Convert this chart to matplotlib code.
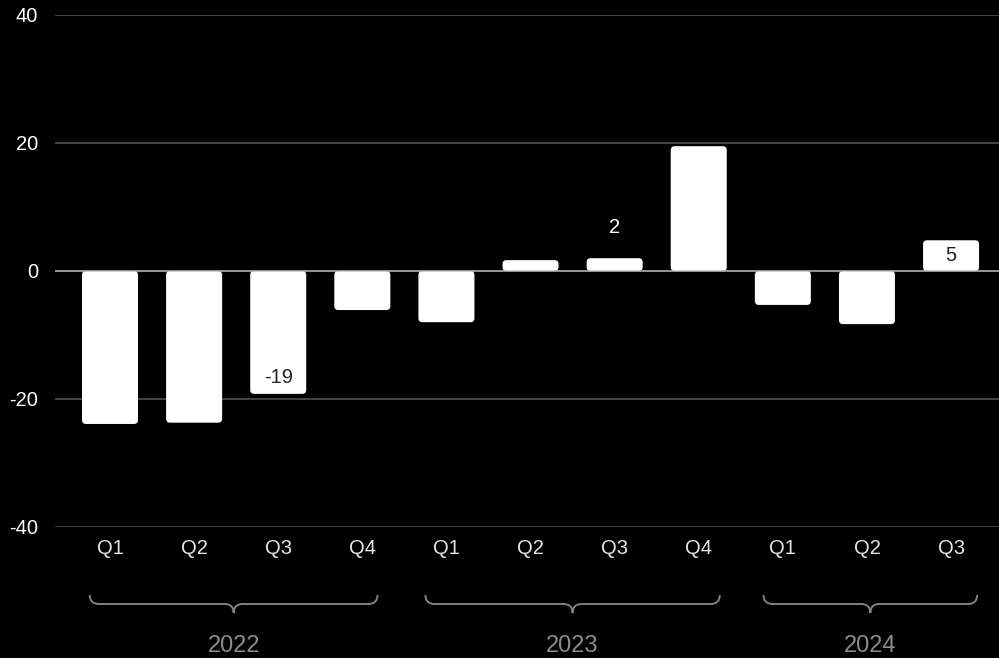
import matplotlib
matplotlib.use("Agg")
import matplotlib.pyplot as plt
from matplotlib.patches import FancyBboxPatch
from matplotlib.path import Path
from matplotlib.patches import PathPatch

plt.rcParams['font.family'] = ['Liberation Sans', 'DejaVu Sans']

# data
quarters = ['Q1', 'Q2', 'Q3', 'Q4', 'Q1', 'Q2', 'Q3', 'Q4', 'Q1', 'Q2', 'Q3']
values = [-23.9, -23.7, -19.2, -6.1, -8.0, 1.7, 2.0, 19.5, -5.3, -8.3, 4.8]
years = ['2022', '2023', '2024']
year_groups = [(0, 3), (4, 7), (8, 10)]
labeled = [2, 6, 10]          # bars with a value label
yticks = [-40, -20, 0, 20, 40]

W, H = 999, 658
fig = plt.figure(figsize=(W / 100, H / 100), dpi=100)
fig.patch.set_facecolor('black')
ax_l, ax_b, ax_r, ax_t = 55, 527, 999, 15
ax = fig.add_axes([ax_l / W, (H - ax_b) / H, (ax_r - ax_l) / W, (ax_b - ax_t) / H])
ax.set_facecolor('black')

xmin, xmax = -0.654, 10.57
ax.set_xlim(xmin, xmax)
ax.set_ylim(-40, 40)
for s in ax.spines.values():
    s.set_visible(False)
ax.set_xticks([])
ax.set_yticks(yticks)
ax.set_yticklabels([str(t) for t in yticks], color='white', fontsize=14.5)
ax.tick_params(axis='y', length=0, pad=12)
for t in yticks:
    ax.axhline(t, color='#555555' if t != 0 else '#c0c0c0', lw=1.1, zorder=1 if t != 0 else 3)

# rounded bars
px_x = (xmax - xmin) / (ax_r - ax_l)
px_y = 80 / (ax_b - ax_t)
bw = 0.666
rad = 4 * px_x
for i, v in enumerate(values):
    y0 = min(0, v)
    p = FancyBboxPatch((i - bw / 2, y0), bw, abs(v),
                       boxstyle="round,pad=0,rounding_size=%f" % rad,
                       mutation_aspect=px_y / px_x,
                       fc='white', ec='none', zorder=2)
    ax.add_patch(p)

# value labels
label_offsets = {2: (16, '#222222'), 6: (-31, 'white'), 10: (15, '#222222')}
for i in labeled:
    v = values[i]
    off, col = label_offsets[i]
    sign = 1 if v < 0 else -1
    ax.annotate('%d' % round(v), (i, v), xytext=(0, sign * off * 0.72),
                textcoords='offset points', ha='center', va='center',
                color=col, fontsize=14.5, zorder=4)

# quarter labels, braces, years
tr = ax.get_xaxis_transform()
def fy(py):
    return -(py - ax_b) / (ax_b - ax_t)

for i, q in enumerate(quarters):
    ax.text(i, fy(549), q, transform=tr, ha='center', va='center',
            color='#e6e6e6', fontsize=14.5, clip_on=False)

brace_pad = [(0.24, 0.18), (0.25, 0.25), (0.23, 0.31)]
r = 9 * px_x
for (a, b), yr, (pl, pr) in zip(year_groups, years, brace_pad):
    x0, x1 = a - pl, b + pr
    xc = (x0 + x1) / 2
    yt, ym, yb = fy(595), fy(604), fy(613)
    verts = [(x0, yt), (x0, ym), (x0 + r, ym),
             (xc - r, ym), (xc, ym), (xc, yb),
             (xc, ym), (xc + r, ym),
             (x1 - r, ym), (x1, ym), (x1, yt)]
    codes = [Path.MOVETO, Path.CURVE3, Path.CURVE3,
             Path.LINETO, Path.CURVE3, Path.CURVE3,
             Path.CURVE3, Path.CURVE3,
             Path.LINETO, Path.CURVE3, Path.CURVE3]
    ax.add_patch(PathPatch(Path(verts, codes), transform=tr, fc='none',
                           ec='#808080', lw=1.4, clip_on=False))
    ax.text(xc, fy(646), yr, transform=tr, ha='center', va='center',
            color='#8c8c8c', fontsize=17, clip_on=False)

fig.savefig('out.png', dpi=100, facecolor='black')
